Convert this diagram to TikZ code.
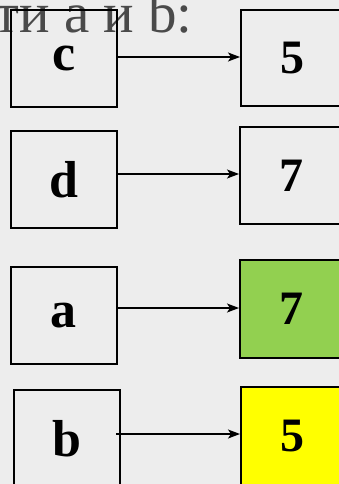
\documentclass[tikz,border=0pt]{standalone}
\usepackage{fontspec}
\setmainfont{Liberation Serif}
\usetikzlibrary{arrows.meta}
\definecolor{bg}{HTML}{EDEDED}
\definecolor{boxgreen}{HTML}{92D050}
\definecolor{boxyellow}{HTML}{FFFF00}
\definecolor{headgray}{HTML}{4A4A4A}
\tikzset{
  cell/.style={draw=black, line width=1.6pt, minimum width=104pt, minimum height=95pt, inner sep=0pt, anchor=north west},
  varname/.style={font=\fontsize{52}{52}\selectfont\bfseries},
  value/.style={font=\fontsize{48}{48}\selectfont\bfseries},
  link/.style={draw=black, line width=1.3pt, -{Stealth[length=12pt,width=9pt,inset=3pt]}}
}
\begin{document}
\begin{tikzpicture}[x=1pt,y=-1pt]
\useasboundingbox (0,0) rectangle (339,484);
\clip (0,0) rectangle (339,484);
\fill[bg] (0,0) rectangle (339,484);
\node[anchor=base east, text=headgray, font=\fontsize{57}{57}\selectfont, inner sep=0pt] (head) at (193,33) {ти а и b:};
% left column
\node[cell, varname, minimum width=106pt, minimum height=97pt] (c) at (10,9) {c};
\node[cell, varname, minimum width=106pt, minimum height=97pt] (d) at (10,130) {d};
\node[cell, varname, minimum width=106pt, minimum height=97pt] (a) at (10,266) {a};
\node[cell, varname, minimum width=106pt, minimum height=97pt] (b) at (13,389) {b};
% right column
\node[cell, value, minimum width=104pt, minimum height=96pt] (v5) at (240,9) {5};
\node[cell, value, minimum width=104pt, minimum height=97pt] (v7) at (239,126) {7};
\node[cell, value, fill=boxgreen, minimum width=104pt, minimum height=98pt] (v7g) at (239,259) {7};
\node[cell, value, fill=boxyellow, minimum width=104pt, minimum height=98pt] (v5y) at (240,386) {5};
% arrows
\coordinate (bstart) at (116,434);
\draw[link] (c.east |- 0,57) -- (v5.west |- 0,57);
\draw[link] (d.east |- 0,174) -- (v7.west |- 0,174);
\draw[link] (a.east |- 0,308) -- (v7g.west |- 0,308);
\draw[link] (bstart) -- (v5y.west |- bstart);
\end{tikzpicture}
\end{document}
